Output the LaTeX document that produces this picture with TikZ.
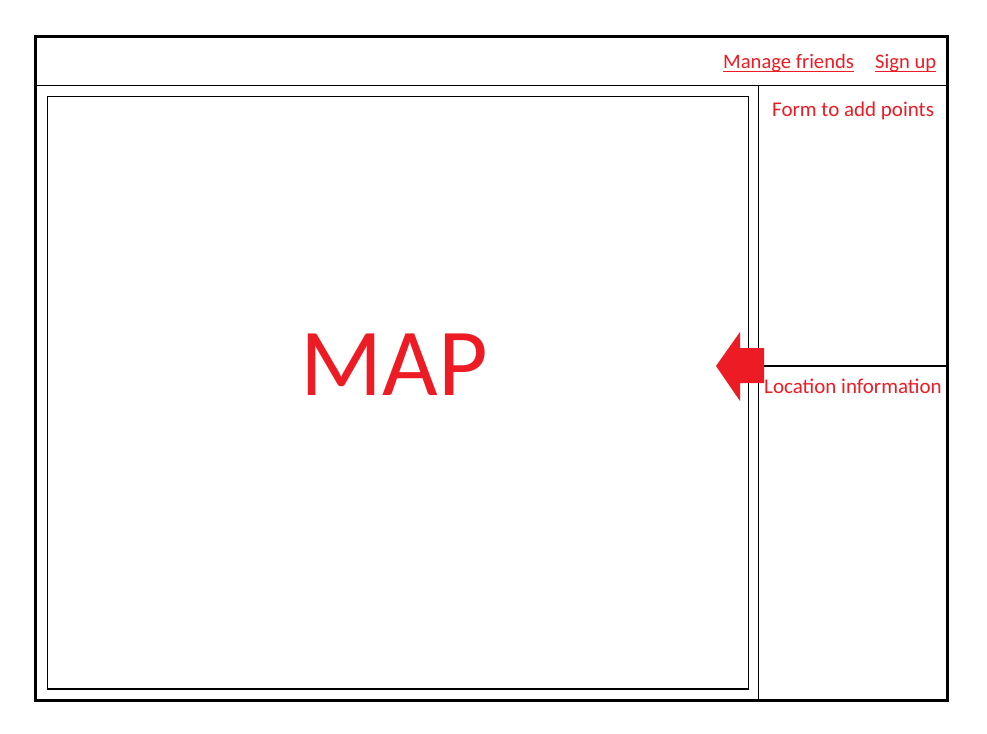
\documentclass[tikz,border=0pt]{standalone}
\usepackage{fontspec}
\setmainfont{Carlito}
\definecolor{pred}{RGB}{237,28,36}
\begin{document}
\begin{tikzpicture}[x=1pt,y=-1pt,
  lbl/.style={inner sep=0pt, anchor=base west, text=pred, font=\fontsize{21}{23}\selectfont},
  thin/.style={line width=1.2pt, draw=black},
  thick/.style={line width=3pt, draw=black}]
\useasboundingbox[fill=white] (0,0) rectangle (987,733);
% frame
\draw[thick] (35.5,36.5) rectangle (947.5,700.5);
\draw[thin] (35.5,85.5) -- (947.5,85.5);
\draw[thin] (758.5,85.5) -- (758.5,700.5);
\draw[thin] (758.5,366) -- (947.5,366);
% map box
\draw[thin] (47.5,96.5) rectangle (748.5,689);
\node[inner sep=0pt, anchor=base, text=pred, font=\fontsize{96}{106}\selectfont] (map) at (394,395) {MAP};
% arrow
\fill[pred] (716,366) -- (740,332) -- (740,348) -- (764,348) -- (764,383) -- (740,383) -- (740,401) -- cycle;
% labels
\node[lbl, font=\fontsize{20.6}{23}\selectfont] (mf) at (723,69) {Manage friends};
\node[lbl, font=\fontsize{20.6}{23}\selectfont] (su) at (875,69) {Sign up};
\draw[pred, line width=1pt] ([yshift=-2.5pt]mf.base west) -- ([yshift=-2.5pt]mf.base east);
\draw[pred, line width=1pt] ([yshift=-2.5pt]su.base west) -- ([yshift=-2.5pt]su.base east);
\node[lbl] (form) at (772,117) {Form to add points};
\node[lbl] (loc) at (764,393) {Location information};
\end{tikzpicture}
\end{document}
